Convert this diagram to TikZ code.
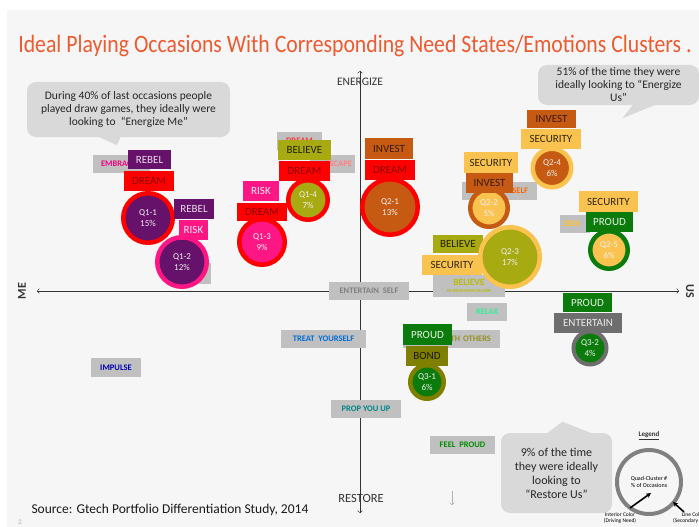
\documentclass[tikz,border=0pt]{standalone}
\usepackage{fontspec}
\usetikzlibrary{arrows.meta}
\setmainfont{Carlito}
\newfontfamily\titlefont[FakeStretch=0.87]{Carlito}
\definecolor{panel}{HTML}{F6F6F6}
\definecolor{titlec}{HTML}{EC5B31}
\definecolor{notec}{HTML}{D9D9D9}
\definecolor{tagc}{HTML}{C0C0C0}
\definecolor{rebelc}{HTML}{66116A}
\definecolor{dreamc}{HTML}{FF0000}
\definecolor{riskc}{HTML}{FF1685}
\definecolor{believec}{HTML}{A8AA12}
\definecolor{investc}{HTML}{C65A12}
\definecolor{securityc}{HTML}{FAC24E}
\definecolor{proudc}{HTML}{0B7B0B}
\definecolor{bondc}{HTML}{7F7F00}
\definecolor{entertainc}{HTML}{6E6E6E}
\definecolor{relaxc}{HTML}{33EE99}
\begin{document}
\begin{tikzpicture}[x=1pt, y=-1pt,
            need/.style = {minimum height=20pt, inner sep=0pt,
                        font=\fontsize{11}{12}\selectfont},
            rebel/.style = {need, fill=rebelc, text=rebelc!15},
            dream/.style = {need, fill=dreamc, text=dreamc!55!black},
            risk/.style = {need, fill=riskc, text=riskc!10},
            believe/.style = {need, fill=believec, text=believec!20!black},
            invest/.style = {need, fill=investc, text=investc!30!black},
            security/.style = {need, fill=securityc, text=securityc!20!black},
            proud/.style = {need, fill=proudc, text=proudc!10},
            bond/.style = {need, fill=bondc, text=bondc!20!black},
            entertain/.style = {need, fill=entertainc, text=white!92!black},
            tag/.style = {fill=tagc, inner xsep=3pt, inner ysep=0pt, minimum height=18pt,
                        font=\fontsize{8.5}{9}\selectfont\bfseries},
            bubble/.style = {circle, line width=4.5pt, inner sep=0pt, align=center,
                        text=white!94!black, font=\fontsize{9}{11}\selectfont},
            note/.style = {fill=notec, rounded corners=9pt, align=center, inner sep=0pt,
                        text=black!85, font=\fontsize{11.5}{13}\selectfont}]
            \useasboundingbox (0,0) rectangle (699,527);
            \fill[white] (0,0) rectangle (699,527);
            \fill[panel] (7,10) rectangle (699,527);

            % Title
            \node (title) at (355,46) {\titlefont\fontsize{25}{28}\selectfont\color{titlec}
                Ideal Playing Occasions With Corresponding Need States/Emotions Clusters .};

            % Axes
            \coordinate (top) at (360,71);
            \coordinate (bottom) at (360,513);
            \coordinate (left) at (37,291);
            \coordinate (right) at (679,291);
            \draw[black!80, thin, ->] (bottom) -- (top);
            \draw[black!80, thin, ->] (top) -- (bottom);
            \draw[black!80, thin, ->] (right) -- (left);
            \draw[black!80, thin, ->] (left) -- (right);
            \node[text=black!80, font=\fontsize{11.5}{12}\selectfont] (energize) at (360,82) {ENERGIZE};
            \node[text=black!80, font=\fontsize{12.5}{13}\selectfont] (restore) at (361,498) {RESTORE};
            \node[text=black!80, rotate=90, font=\fontsize{12}{12}\selectfont\bfseries] (me) at (22,291) {ME};
            \node[text=black!80, rotate=-90, font=\fontsize{12}{12}\selectfont\bfseries] (us) at (690,291) {US};

            % Callouts
            \node[note, minimum width=203pt, minimum height=55pt] (note1) at (128.5,109.5)
                {During 40\% of last occasions people\\played draw games, they ideally were\\looking to ~\textquotedblleft Energize Me\textquotedblright};
            \fill[notec] ([xshift=-29pt]note1.south) -- ([xshift=-11.5pt,yshift=-8pt]note1.south)
                -- ([xshift=-8pt]note1.south) -- cycle;
            \node[note, minimum width=161pt, minimum height=40pt] (note2) at (618.5,85)
                {51\% of the time they were\\ideally looking to \textquotedblleft Energize\\Us\textquotedblright};
            \fill[notec] ([xshift=14pt]note2.south) -- ([xshift=4pt,yshift=-13pt]note2.south)
                -- ([xshift=36pt]note2.south) -- cycle;
            \node[note, minimum width=111pt, minimum height=80pt,
                font=\fontsize{12}{14}\selectfont] (note3) at (556.5,473)
                {9\% of the time\\they were ideally\\looking to\\\textquotedblleft Restore Us\textquotedblright};
            \fill[notec] ([xshift=-9pt]note3.north) -- ([xshift=6pt,yshift=11pt]note3.north)
                -- ([xshift=34pt]note3.north) -- cycle;

            % Emotion tags
            \node[tag, text width=51pt, align=left, text=magenta!90!red] (embrace) at (121.5,164) {\hspace{5pt}EMBRACE};
            \node[tag, text width=39pt, align=center, text=red!80] (dreamtag) at (299.5,141) {DREAM};
            \node[tag, text width=39pt, align=right, text=red!50] (escape) at (332.5,164) {ESCAPE};
            \node[tag, text width=69pt, align=right, text=orange!80!red] (self) at (499.5,191) {SELF\hspace*{6pt}};
            \node[tag, text width=24pt, align=left, text=orange!60!yellow!80] (seek) at (575,224) {SEEK};
            \node[tag, minimum width=39pt, minimum height=21pt] (hidden) at (191.5,273.5) {};
            \node[tag, minimum width=72pt, minimum height=22pt, align=center, text=believec!80!yellow]
                (bigger) at (469,286) {\fontsize{9.5}{9}\selectfont BELIEVE\\[-2pt]\fontsize{4.5}{5}\selectfont IN SOMETHING BIGGER};
            \node[tag, minimum width=80pt, text=black!50] (entself) at (369,290.5) {ENTERTAIN\ \ SELF};
            \node[tag, minimum width=40pt, text=relaxc] (relax) at (487,312) {RELAX};
            \node[tag, text width=91pt, align=right, text=bondc!85!white] (others) at (451.5,339) {BOND WITH OTHERS\hspace*{6pt}};
            \node[tag, minimum width=85pt, text=blue!50!cyan!85!black] (treat) at (323.5,339) {TREAT\ \ YOURSELF};
            \node[tag, minimum width=70pt, text=teal!70!cyan!80!black] (prop) at (366,409) {PROP YOU UP};
            \node[tag, minimum width=50pt, minimum height=19pt, text=blue!70!black] (impulse) at (116,367.5) {IMPULSE};
            \node[tag, minimum width=65pt, text=green!55!black] (feel) at (462.5,445) {FEEL\ \ PROUD};

            % Q1-1
            \node[bubble, fill=rebelc, draw=dreamc, minimum size=49.5pt] (q11) at (148,218) {Q1-1\\15\%};
            \node[rebel, minimum width=43pt, minimum height=19pt] (q11a) at (149.5,159.5) {REBEL};
            \node[dream, minimum width=50pt] (q11b) at (149,181) {DREAM};
            % Q1-2
            \node[bubble, fill=rebelc, draw=riskc, minimum size=49.5pt] (q12) at (182,262) {Q1-2\\12\%};
            \node[rebel, minimum width=40pt] (q12a) at (194,209) {REBEL};
            \node[risk, minimum width=29pt] (q12b) at (193.5,230) {RISK};
            % Q1-3
            \node[bubble, fill=riskc, draw=dreamc, minimum size=45.5pt] (q13) at (262,242) {Q1-3\\9\%};
            \node[risk, minimum width=36pt] (q13a) at (261,191) {RISK};
            \node[dream, minimum width=50pt, minimum height=18pt] (q13b) at (262,212) {DREAM};
            % Q1-4
            \node[bubble, fill=believec, draw=dreamc, minimum size=39.5pt] (q14) at (308,200) {Q1-4\\7\%};
            \node[believe, minimum width=53pt] (q14a) at (304.5,150) {BELIEVE};
            \node[dream, minimum width=51pt] (q14b) at (304.5,171) {DREAM};
            % Q2-1
            \node[bubble, fill=investc, draw=dreamc, minimum size=55.5pt] (q21) at (390,207) {Q2-1\\13\%};
            \node[invest, minimum width=48pt, minimum height=21pt] (q21a) at (389,148.5) {INVEST};
            \node[dream, minimum width=50pt] (q21b) at (390,170) {DREAM};
            % Q2-4
            \node[bubble, fill=investc, draw=securityc, minimum size=38.5pt] (q24) at (552,168) {Q2-4\\6\%};
            \node[invest, minimum width=49pt, minimum height=18pt] (q24a) at (551.5,119) {INVEST};
            \node[security, minimum width=60pt] (q24b) at (551,139) {SECURITY};
            % Q2-5
            \node[bubble, fill=securityc, draw=proudc, minimum size=37.5pt] (q25) at (609,250) {Q2-5\\6\%};
            \node[security, minimum width=59pt, minimum height=21pt] (q25a) at (608.5,201.5) {SECURITY};
            \node[proud, minimum width=47pt] (q25b) at (609.5,222) {PROUD};
            % Q2-2
            \node[bubble, fill=securityc, draw=investc, minimum size=37.5pt] (q22) at (489,208) {Q2-2\\5\%};
            \node[security, minimum width=54pt, minimum height=21pt] (q22a) at (491,162.5) {SECURITY};
            \node[invest, minimum width=47pt] (q22b) at (489.5,183) {INVEST};
            % Q2-3
            \node[believe, minimum width=50pt, minimum height=18pt] (q23a) at (458,244) {BELIEVE};
            \node[security, minimum width=60pt] (q23b) at (452,265) {SECURITY};
            \node[bubble, fill=believec, draw=securityc, minimum size=59.5pt] (q23) at (510,257) {Q2-3\\17\%};
            % Q3-1
            \node[bubble, fill=proudc, draw=bondc, minimum size=33.5pt] (q31) at (427,382) {Q3-1\\6\%};
            \node[proud, minimum width=49pt, minimum height=21pt] (q31a) at (427.5,334.5) {PROUD};
            \node[bond, minimum width=42pt] (q31b) at (427,356) {BOND};
            % Q3-2
            \node[bubble, fill=proudc, draw=entertainc, line width=4pt, minimum size=33pt] (q32) at (590,348) {Q3-2\\4\%};
            \node[proud, minimum width=49pt, minimum height=19pt] (q32a) at (587.5,302.5) {PROUD};
            \node[entertain, minimum width=68pt] (q32b) at (588,323) {ENTERTAIN};

            % Legend
            \node[font=\fontsize{7}{8}\selectfont\bfseries, text=black!80] (legend) at (649,436) {\underline{Legend}};
            \node[circle, draw=black!50, line width=4pt, minimum size=64pt, inner sep=0pt, align=center,
                font=\fontsize{6}{7}\selectfont] (legring) at (649,482) {Quad-Cluster \#\\\% of Occasions};
            \coordinate (intc) at (630,508);
            \coordinate (intend) at (651,493);
            \coordinate (linec) at (684,512);
            \coordinate (lineend) at (673,502);
            \draw[line width=1.6pt, -{Stealth[length=5pt,width=5pt]}] (intc) -- (intend);
            \draw[line width=1.6pt, -{Stealth[length=5pt,width=5pt]}] (linec) -- (lineend);
            \node[align=center, font=\fontsize{5.5}{6.5}\selectfont] (intlabel) at (620,518) {Interior Color\\(Driving Need)};
            \node[align=center, font=\fontsize{5.5}{6.5}\selectfont] (linelabel) at (693,518) {Line Color\\(Secondary Need)};

            % Footer
            \node[anchor=west, font=\fontsize{13.5}{14}\selectfont, text=black!90] (source) at (28,510)
                {Source: Gtech Portfolio Differentiation Study, 2014};
            \node[font=\fontsize{7}{8}\selectfont, text=black!30] (page) at (20,522) {2};
            \coordinate (small1) at (452,491);
            \coordinate (small2) at (452,505);
            \draw[black!30, thin, ->] (small1) -- (small2);
        \end{tikzpicture}
\end{document}
